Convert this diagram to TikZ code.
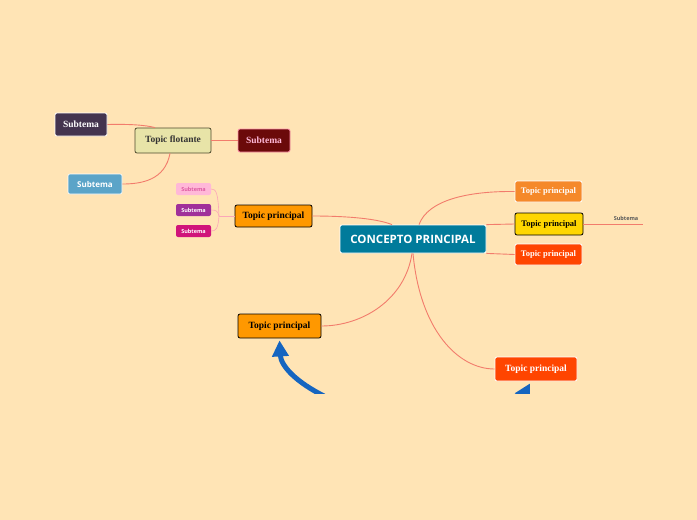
\documentclass[tikz,border=0pt]{standalone}
\usepackage{fontspec}
\setmainfont{Liberation Serif}
\setsansfont{Open Sans}
\usetikzlibrary{arrows.meta}
\definecolor{bgpaper}{RGB}{255,228,181}
\definecolor{linkred}{RGB}{242,124,108}
\definecolor{coreteal}{RGB}{0,123,155}
\definecolor{topicorange}{RGB}{255,152,0}
\definecolor{topicamber}{RGB}{245,137,42}
\definecolor{topicyellow}{RGB}{255,214,0}
\definecolor{topicred}{RGB}{255,69,0}
\definecolor{floatolive}{RGB}{232,228,168}
\definecolor{subplum}{RGB}{68,52,79}
\definecolor{submaroon}{RGB}{107,10,10}
\definecolor{subsky}{RGB}{91,164,200}
\definecolor{subpink}{RGB}{255,184,216}
\definecolor{subviolet}{RGB}{160,48,154}
\definecolor{submagenta}{RGB}{208,20,122}
\definecolor{arrowblue}{RGB}{21,101,192}
\tikzset{
  box/.style={rounded corners=2pt, inner sep=0pt, align=center},
  topic/.style={box, draw=black, line width=0.8pt, font=\bfseries\fontsize{9.5}{10}\selectfont},
  topicw/.style={box, draw=white, line width=0.8pt, text=white, font=\bfseries\fontsize{9.5}{10}\selectfont},
  subt/.style={box, draw=white, line width=0.6pt, text=white, font=\sffamily\bfseries\fontsize{8}{9}\selectfont},
  subs/.style={box, text=white, minimum width=35pt, minimum height=12pt, font=\sffamily\bfseries\fontsize{5.5}{6}\selectfont},
  link/.style={draw=linkred, line width=0.9pt},
  bigarrow/.style={draw=arrowblue, line width=5pt, -{Triangle[length=16pt,width=16pt]}}
}
\begin{document}
\begin{tikzpicture}[x=1pt,y=-1pt]
\useasboundingbox[fill=bgpaper] (0,0) rectangle (697,520);
% central concept
\node[box, fill=coreteal, draw=white, line width=0.8pt, text=white, minimum width=146pt, minimum height=28pt,
  font=\sffamily\bfseries\fontsize{11.5}{13}\selectfont] (core) at (413,239) {CONCEPTO PRINCIPAL};
% main topics
\node[topic, fill=topicorange, minimum width=77pt, minimum height=22pt] (tleft) at (273.5,216) {Topic principal};
\node[topicw, fill=topicamber, minimum width=67pt, minimum height=21pt, font=\bfseries\fontsize{8.5}{9}\selectfont] (tright1) at (548.5,191.5) {Topic principal};
\node[topic, fill=topicyellow, minimum width=68pt, minimum height=22pt, font=\bfseries\fontsize{8.5}{9}\selectfont] (tright2) at (549,224) {Topic principal};
\node[topicw, fill=topicred, minimum width=67pt, minimum height=21pt, font=\bfseries\fontsize{8.5}{9}\selectfont] (tright3) at (548.5,254.5) {Topic principal};
\node[topic, fill=topicorange, minimum width=83pt, minimum height=24pt] (tbl) at (279.5,326) {Topic principal};
\node[topicw, fill=topicred, minimum width=82pt, minimum height=24pt] (tbr) at (536,369) {Topic principal};
% subtopics of the left topic
\node[subs, fill=subpink, text=submagenta!70] (spink) at (193.5,189) {Subtema};
\node[subs, fill=subviolet] (sviolet) at (193.5,210) {Subtema};
\node[subs, fill=submagenta] (smagenta) at (193.5,231) {Subtema};
% floating topic
\node[topic, fill=floatolive, draw=black!60!olive, text=black!80, minimum width=76pt, minimum height=25pt] (float) at (173,140.5) {Topic flotante};
\node[topicw, fill=subplum, minimum width=52pt, minimum height=23pt] (splum) at (81,124.5) {Subtema};
\node[topicw, fill=submaroon, draw=subpink!80!red, text=subpink, minimum width=52pt, minimum height=23pt] (smaroon) at (264,140.5) {Subtema};
\node[subt, fill=subsky, minimum width=54pt, minimum height=20pt] (ssky) at (95,184) {Subtema};
% plain subtopic on the right
\node[font=\sffamily\bfseries\fontsize{5.5}{6}\selectfont, text=black!65] (splain) at (626,218) {Subtema};
\coordinate (plainend) at (643,224);
\coordinate (fork) at (219,216);
% connectors
\draw[link] (tleft.east) .. controls (350,216) and (378,219) .. ([xshift=-21pt]core.north);
\draw[link] ([xshift=6pt]core.north) .. controls (428,200) and (468,191) .. (tright1.west);
\draw[link] (core.north east) -- (tright2.west);
\draw[link] (core.south east) -- (tright3.west);
\draw[link] ([xshift=-1pt]core.south) .. controls (405,300) and (362,326) .. (tbl.east);
\draw[link] (core.south) .. controls (420,330) and (458,369) .. (tbr.west);
\draw[link] (tright2.east) -- (plainend);
\draw[link, draw=subpink!70!linkred, line width=0.6pt] (tleft.west) -- (fork);
\draw[link, draw=subpink!70!linkred, line width=0.6pt] (fork) .. controls (218,192) and (216,189) .. (spink.east);
\draw[link, draw=subpink!70!linkred, line width=0.6pt] (fork) .. controls (218,211) and (216,210) .. (sviolet.east);
\draw[link, draw=subpink!70!linkred, line width=0.6pt] (fork) .. controls (218,229) and (216,231) .. (smagenta.east);
\draw[link] (splum.east) .. controls (130,124) and (145,125) .. ([xshift=-18pt]float.north);
\draw[link] (float.east) -- (smaroon.west);
\draw[link] ([xshift=-3pt]float.south) .. controls (165,180) and (142,184) .. (ssky.east);
% blue arrows, cut off at the lower edge
\begin{scope}
\clip (0,0) rectangle (697,393);
\coordinate (arrowa) at (324,396);
\coordinate (arrowb) at (500,440);
\draw[bigarrow] (arrowa) .. controls (296,382) and (281,366) .. ([yshift=-2pt]tbl.south);
\draw[bigarrow] (arrowb) .. controls (512,420) and (522,398) .. ([xshift=-6pt,yshift=-2pt]tbr.south);
\end{scope}
\end{tikzpicture}
\end{document}
